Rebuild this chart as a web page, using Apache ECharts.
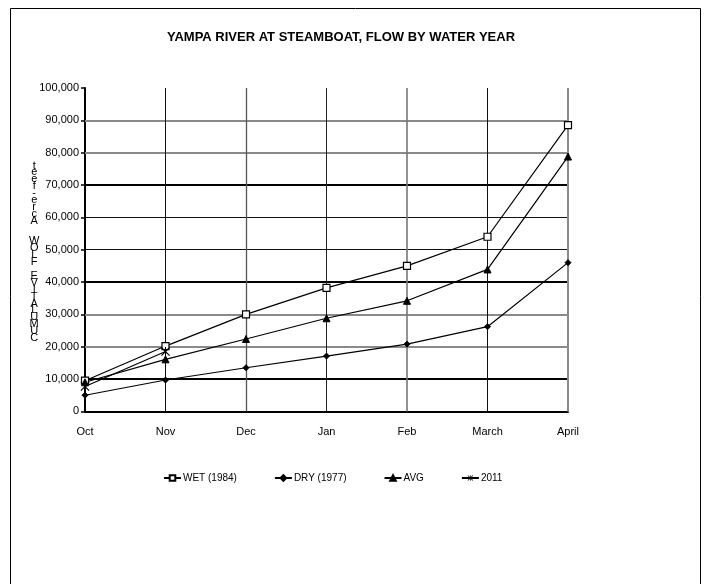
<!DOCTYPE html>
<html>
<head>
<meta charset="utf-8">
<script src="https://cdn.jsdelivr.net/npm/echarts@6/dist/echarts.min.js"></script>
<style>
  html, body { margin: 0; padding: 0; background: #fff; }
  #chart { width: 711px; height: 584px; }
</style>
</head>
<body>
<div id="chart"></div>
<script>
// Cumulative flow, Yampa River at Steamboat, by month of the water year
const months = ['Oct', 'Nov', 'Dec', 'Jan', 'Feb', 'March', 'April'];
const wet1984 = [9500, 20200, 30000, 38200, 45000, 54000, 88500];
const dry1977 = [5000, 9700, 13500, 17100, 20800, 26200, 46000];
const avgFlow = [9000, 16100, 22400, 28800, 34200, 43900, 78800];
const year2011 = [7700, 18500, null, null, null, null, null];
const yTicks = [0, 10000, 20000, 30000, 40000, 50000, 60000, 70000, 80000, 90000, 100000];
const yTitle = 'CUMULATIVE FLOW, Acre-feet';

const FONT = '"Liberation Sans", Arial, sans-serif';

// horizontal rules drawn with a mix of heavy, grey and thin strokes
const hStyle = {
  10000: { color: '#000', width: 2 },
  20000: { color: '#8a8a8a', width: 2 },
  30000: { color: '#8a8a8a', width: 2 },
  40000: { color: '#000', width: 2 },
  50000: { color: '#111', width: 1 },
  60000: { color: '#111', width: 1 },
  70000: { color: '#000', width: 2 },
  80000: { color: '#8a8a8a', width: 2 },
  90000: { color: '#8a8a8a', width: 2 }
};
// vertical rules at each month after the first
const vStyle = {
  Nov: { color: '#111', width: 1 },
  Dec: { color: '#555', width: 1.3 },
  Jan: { color: '#222', width: 1 },
  Feb: { color: '#777', width: 1.6 },
  March: { color: '#111', width: 1 },
  April: { color: '#8a8a8a', width: 2 }
};
const rules = yTicks.filter(v => hStyle[v]).map(v => ({
  yAxis: v,
  lineStyle: { color: hStyle[v].color, width: hStyle[v].width, type: 'solid' }
})).concat(months.filter(m => vStyle[m]).map(m => ({
  xAxis: m,
  lineStyle: { color: vStyle[m].color, width: vStyle[m].width, type: 'solid' }
})));

// asterisk marker built from three thin filled bars
const asterisk = 'path://M4.4,0H5.6V10H4.4Z' +
  'M0,0.9L0.9,0L10,9.1L9.1,10Z' +
  'M9.1,0L10,0.9L0.9,10L0,9.1Z';

function lineSeries(name, data, symbol, size, fill, border) {
  return {
    name: name,
    type: 'line',
    data: data,
    symbol: symbol,
    symbolSize: size,
    showSymbol: true,
    connectNulls: false,
    z: 5,
    lineStyle: { color: '#000', width: 1.2 },
    itemStyle: { color: fill, borderColor: '#000', borderWidth: border },
    emphasis: { disabled: true }
  };
}

const chart = echarts.init(document.getElementById('chart'), null, { renderer: 'canvas' });
chart.setOption({
  animation: false,
  backgroundColor: '#fff',
  textStyle: { fontFamily: FONT, color: '#000' },
  title: {
    text: 'YAMPA RIVER AT STEAMBOAT, FLOW BY WATER YEAR',
    left: 341,
    top: 31,
    padding: 0,
    textAlign: 'center',
    textStyle: { fontFamily: FONT, fontSize: 13, fontWeight: 'bold', color: '#000' }
  },
  grid: { left: 85, right: 143, top: 88, bottom: 172.6, containLabel: false },
  xAxis: {
    type: 'category',
    data: months,
    boundaryGap: false,
    axisLine: { lineStyle: { color: '#000', width: 2 } },
    axisTick: { show: false },
    axisLabel: { color: '#000', fontSize: 11, fontFamily: FONT, margin: 15 },
    splitLine: { show: false }
  },
  yAxis: {
    type: 'value',
    min: yTicks[0],
    max: yTicks[yTicks.length - 1],
    interval: 10000,
    axisLine: { show: true, lineStyle: { color: '#000', width: 2 } },
    axisTick: { show: true, length: 4, lineStyle: { color: '#000', width: 1.5 } },
    axisLabel: {
      color: '#000', fontSize: 11, fontFamily: FONT, margin: 6,
      formatter: v => v.toLocaleString('en-US')
    },
    splitLine: { show: false }
  },
  legend: {
    data: ['WET (1984)', 'DRY (1977)', 'AVG', '2011'],
    left: 163,
    top: 473,
    padding: 0,
    itemWidth: 17,
    itemHeight: 7,
    itemGap: 37,
    textStyle: { fontFamily: FONT, fontSize: 10, color: '#000', padding: [0, 0, 0, -3] },
    selectedMode: false
  },
  graphic: [
    {
      type: 'rect',
      shape: { x: 10.5, y: 8.5, width: 690, height: 620 },
      style: { fill: 'none', stroke: '#000', lineWidth: 1 },
      z: -1,
      silent: true
    },
    {
      type: 'text',
      left: 29,
      top: 160,
      style: {
        text: yTitle.split('').reverse().join('\n'),
        font: '11px ' + FONT,
        lineHeight: 6.9,
        fill: '#000',
        textAlign: 'center'
      },
      silent: true
    }
  ],
  series: [
    {
      name: 'rules',
      type: 'line',
      data: [],
      z: 1,
      silent: true,
      markLine: {
        silent: true,
        symbol: 'none',
        label: { show: false },
        animation: false,
        data: rules
      }
    },
    lineSeries('WET (1984)', wet1984, 'rect', 7, '#fff', 1.2),
    lineSeries('DRY (1977)', dry1977, 'diamond', 6, '#000', 1),
    lineSeries('AVG', avgFlow, 'triangle', 7, '#000', 1),
    lineSeries('2011', year2011, asterisk, 9, '#000', 0)
  ]
});
</script>
</body>
</html>
